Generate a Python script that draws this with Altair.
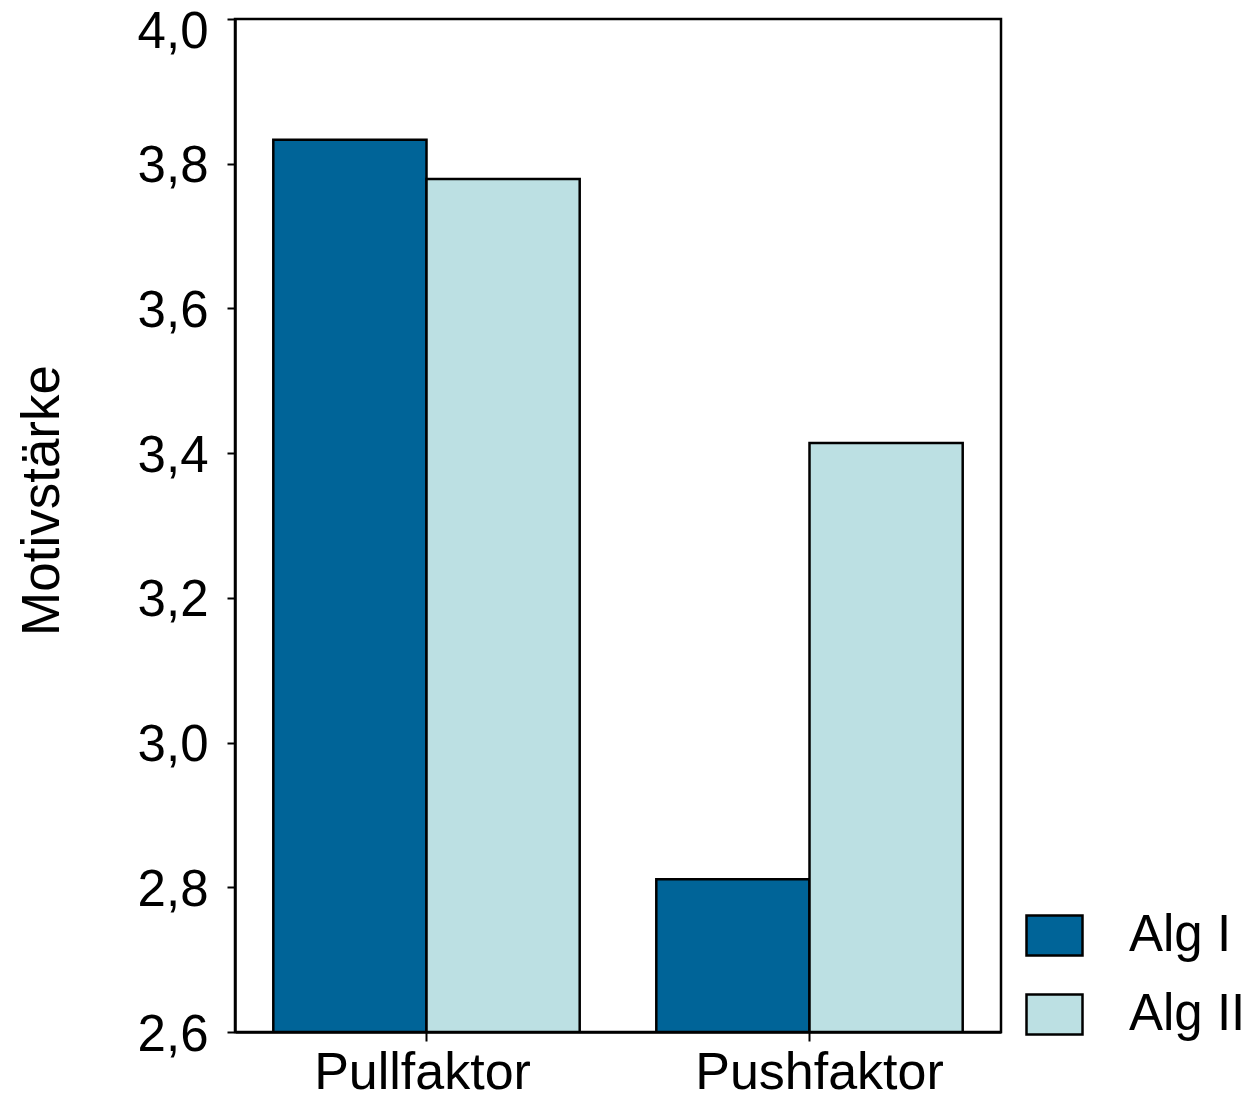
import altair as alt
import pandas as pd

categories = ["Pullfaktor", "Pullfaktor", "Pushfaktor", "Pushfaktor"]
groups = ["Alg I", "Alg II", "Alg I", "Alg II"]
values = [3.833, 3.779, 2.811, 3.414]

df = pd.DataFrame({"faktor": categories, "gruppe": groups, "wert": values})

FONT = "Liberation Sans"
FS = 51

chart = alt.Chart(df).mark_bar(stroke="black", strokeWidth=2.5, clip=True).encode(
    x=alt.X("faktor:N", title=None,
            scale=alt.Scale(paddingInner=0.2, paddingOuter=0.1),
            axis=alt.Axis(labelAngle=0, labelFontSize=52, labelFont=FONT, labelColor="black",
                          labelLimit=0, labelPadding=6, tickSize=9, tickWidth=2, tickColor="black",
                          domainColor="black", domainWidth=2.5,
                          labelOffset={"condition": {"test": "datum.value == 'Pushfaktor'", "value": 10}, "value": -4})),
    xOffset=alt.XOffset("gruppe:N", scale=alt.Scale(paddingInner=0, paddingOuter=0)),
    y=alt.Y("wert:Q", title="Motivstärke",
            scale=alt.Scale(domain=[2.6, 4.0], nice=False, zero=False),
            axis=alt.Axis(values=[2.6, 2.8, 3.0, 3.2, 3.4, 3.6, 3.8, 4.0],
                          labelExpr="replace(format(datum.value, '.1f'), '.', ',')",
                          labelFontSize=FS, labelFont=FONT, labelColor="black",
                          labelPadding=19, tickSize=8, tickWidth=2, tickColor="black",
                          domainColor="black", domainWidth=2.5, grid=False,
                          labelOffset={"condition": {"test": "datum.value >= 3.99", "value": 13}, "value": 3},
                          titleFontSize=53, titleFont=FONT, titleFontWeight="normal",
                          titleColor="black", titlePadding=68, titleY=481)),
    y2=alt.datum(2.6),
    color=alt.Color("gruppe:N",
                    scale=alt.Scale(domain=["Alg I", "Alg II"], range=["#006498", "#BCE0E3"]),
                    legend=alt.Legend(title=None, orient="none", legendX=790, legendY=887,
                                      symbolType="M-1,-0.71 L1,-0.71 L1,0.71 L-1,0.71 Z",
                                      symbolSize=3136, symbolStrokeColor="black",
                                      symbolStrokeWidth=2.5, symbolOpacity=1,
                                      labelFontSize=FS, labelFont=FONT, labelColor="black",
                                      labelOffset=45, rowPadding=24, padding=0)),
).properties(
    width=766, height=1013,
    background="white",
    autosize=alt.AutoSizeParams(type="none"),
    padding={"left": 227, "top": 11, "right": 246, "bottom": 66},
).configure_view(stroke="black", strokeWidth=2.5)

chart.save("out.html", embed_options={"renderer": "svg", "actions": False})
